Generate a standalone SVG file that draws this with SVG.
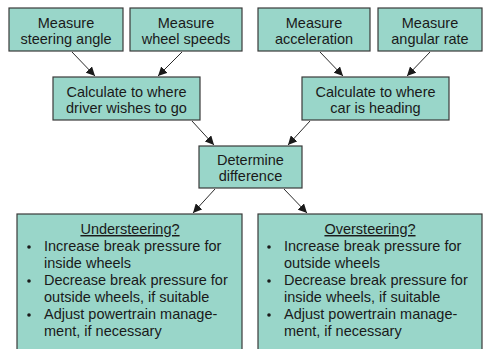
<svg xmlns="http://www.w3.org/2000/svg" width="485" height="349" viewBox="0 0 485 349">
<defs>
<style>
.box{fill:#99d6c9;stroke:#3a3a3a;stroke-width:1.2}
.t{font-family:"Liberation Sans",Arial,sans-serif;font-size:14.5px;fill:#1a1a1a}
.c{text-anchor:middle}
.edge{stroke:#2a2a2a;stroke-width:1;fill:none;marker-end:url(#ah)}
</style>
<marker id="ah" viewBox="0 0 10 10" refX="10" refY="5" markerWidth="9" markerHeight="9" markerUnits="userSpaceOnUse" orient="auto">
<path d="M0,0 L10,5 L0,10 z" fill="#1a1a1a"/>
</marker>
</defs>
<rect width="485" height="349" fill="#ffffff"/>
<g id="connectors">
<line class="edge" x1="72" y1="52" x2="95" y2="76"/>
<line class="edge" x1="182" y1="52" x2="158" y2="76"/>
<line class="edge" x1="320" y1="52" x2="343" y2="76"/>
<line class="edge" x1="430" y1="52" x2="407" y2="76"/>
<line class="edge" x1="192" y1="121" x2="214" y2="145"/>
<line class="edge" x1="310" y1="121" x2="288" y2="145"/>
<line class="edge" x1="215" y1="189" x2="193" y2="213"/>
<line class="edge" x1="284" y1="189" x2="307" y2="213"/>
</g>
<g id="steering">
<rect class="box" x="9" y="8" width="114" height="43"/>
<text class="t c" x="66" y="28">Measure</text>
<text class="t c" x="66" y="44">steering angle</text>
</g>
<g id="wheels">
<rect class="box" x="130" y="8" width="112" height="43"/>
<text class="t c" x="186" y="28">Measure</text>
<text class="t c" x="186" y="44">wheel speeds</text>
</g>
<g id="accel">
<rect class="box" x="258" y="8" width="112" height="43"/>
<text class="t c" x="314" y="28">Measure</text>
<text class="t c" x="314" y="44">acceleration</text>
</g>
<g id="angular">
<rect class="box" x="378" y="8" width="104" height="43"/>
<text class="t c" x="430" y="28">Measure</text>
<text class="t c" x="430" y="44">angular rate</text>
</g>
<g id="calcDriver">
<rect class="box" x="53" y="77" width="147" height="43"/>
<text class="t c" x="126.5" y="97">Calculate to where</text>
<text class="t c" x="126.5" y="113">driver wishes to go</text>
</g>
<g id="calcCar">
<rect class="box" x="302" y="77" width="147" height="43"/>
<text class="t c" x="375.5" y="97">Calculate to where</text>
<text class="t c" x="375.5" y="113">car is heading</text>
</g>
<g id="determine">
<rect class="box" x="199" y="146" width="103" height="42"/>
<text class="t c" x="250.5" y="165">Determine</text>
<text class="t c" x="250.5" y="181">difference</text>
</g>
<g id="under">
<rect class="box" x="17" y="214" width="225" height="145"/>
<text class="t c" x="130" y="234" text-decoration="underline">Understeering?</text>
<circle cx="29" cy="247" r="1.8" fill="#1a1a1a"/>
<text class="t" x="44" y="251">Increase break pressure for</text>
<text class="t" x="44" y="268">inside wheels</text>
<circle cx="29" cy="281" r="1.8" fill="#1a1a1a"/>
<text class="t" x="44" y="285">Decrease break pressure for</text>
<text class="t" x="44" y="302">outside wheels, if suitable</text>
<circle cx="29" cy="315" r="1.8" fill="#1a1a1a"/>
<text class="t" x="44" y="319">Adjust powertrain manage-</text>
<text class="t" x="44" y="336">ment, if necessary</text>
</g>
<g id="over">
<rect class="box" x="258" y="214" width="224" height="145"/>
<text class="t c" x="370" y="234" text-decoration="underline">Oversteering?</text>
<circle cx="269" cy="247" r="1.8" fill="#1a1a1a"/>
<text class="t" x="284" y="251">Increase break pressure for</text>
<text class="t" x="284" y="268">outside wheels</text>
<circle cx="269" cy="281" r="1.8" fill="#1a1a1a"/>
<text class="t" x="284" y="285">Decrease break pressure for</text>
<text class="t" x="284" y="302">inside wheels, if suitable</text>
<circle cx="269" cy="315" r="1.8" fill="#1a1a1a"/>
<text class="t" x="284" y="319">Adjust powertrain manage-</text>
<text class="t" x="284" y="336">ment, if necessary</text>
</g>
</svg>
